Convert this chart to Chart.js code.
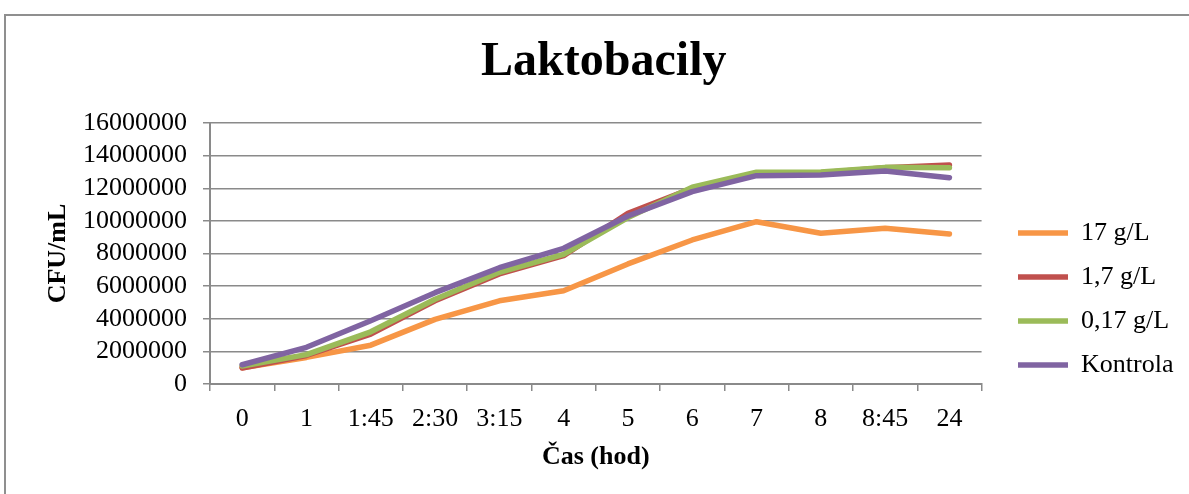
<html><head><meta charset="utf-8">
<script src="https://cdn.jsdelivr.net/npm/chart.js@4.4.0/dist/chart.umd.min.js"></script>
<style>
 html, body { margin:0; padding:0; background:#fff; overflow:hidden; }
 #frame { position:absolute; left:4px; top:14px; width:1300px; height:600px; border:2px solid #8f8f8f; box-sizing:border-box; }
 #myChart { position:absolute; left:0; top:0; }
</style>
</head>
<body>
<div id="frame"></div>
<canvas id="myChart" width="1189" height="494"></canvas>
<script>
// data
var casy = ['0', '1', '1:45', '2:30', '3:15', '4', '5', '6', '7', '8', '8:45', '24'];
var g17 = [1000000, 1630000, 2380000, 3960000, 5100000, 5720000, 7360000, 8830000, 9950000, 9240000, 9550000, 9200000];
var g1_7 = [980000, 1750000, 3060000, 5100000, 6750000, 7870000, 10470000, 12000000, 12900000, 12950000, 13250000, 13420000];
var g0_17 = [1100000, 1800000, 3200000, 5200000, 6850000, 7950000, 10200000, 12060000, 12980000, 13000000, 13280000, 13260000];
var kontrola = [1180000, 2250000, 3880000, 5600000, 7130000, 8320000, 10300000, 11790000, 12770000, 12810000, 13060000, 12650000];
var yTicks = [0, 2000000, 4000000, 6000000, 8000000, 10000000, 12000000, 14000000, 16000000];

var serif = "'Liberation Serif', 'Times New Roman', serif";
Chart.defaults.font.family = serif;
Chart.defaults.font.size = 26;
Chart.defaults.color = '#000';

var gray = '#8a8a8a';

// put legend and title where Excel had them
var placeBlocks = {
  id: 'placeBlocks',
  afterLayout: function(chart) {
    var l = chart.legend;
    var dx = 1000 - l.left, dy = 202 - l.top;
    l.left += dx; l.right += dx; l.top += dy; l.bottom += dy;
    var t = chart.titleBlock;
    t.left += 8; t.right += 8;
  }
};

function serie(label, data, color, order) {
  return {
    label: label, data: data, borderColor: color, backgroundColor: color,
    borderWidth: 5.5, pointRadius: 0, tension: 0, fill: false,
    borderCapStyle: 'round', borderJoinStyle: 'round', order: order
  };
}

var ctx = document.getElementById('myChart');
var myChart = new Chart(ctx, {
  type: 'line',
  data: {
    labels: casy,
    datasets: [
      serie('17 g/L', g17, '#F79646', 3),
      serie('1,7 g/L', g1_7, '#C0504D', 2),
      serie('0,17 g/L', g0_17, '#9BBB59', 1),
      serie('Kontrola', kontrola, '#8064A2', 0)
    ]
  },
  options: {
    responsive: false,
    animation: false,
    devicePixelRatio: 1,
    layout: { padding: { left: 0, top: 0, right: 24, bottom: 0 } },
    plugins: {
      title: {
        display: true, text: 'Laktobacily', fullSize: false, color: '#000',
        font: { family: serif, size: 48, weight: 'bold', lineHeight: 1 },
        padding: { top: 39, bottom: 36 }
      },
      legend: {
        position: 'right', align: 'start', fullSize: false,
        labels: {
          usePointStyle: true, pointStyle: 'line', pointStyleWidth: 50,
          padding: 18, font: { family: serif, size: 26 },
          sort: function(a, b) { return a.datasetIndex - b.datasetIndex; }
        }
      },
      tooltip: { enabled: false }
    },
    scales: {
      x: {
        offset: true,
        grid: { offset: true, drawOnChartArea: false, drawTicks: true, tickLength: 7, color: gray, lineWidth: 1.5 },
        border: { color: gray, width: 2 },
        ticks: { padding: 13, maxRotation: 0, autoSkip: false },
        title: { display: true, text: 'Čas (hod)', font: { family: serif, size: 26, weight: 'bold', lineHeight: 1 }, padding: { top: 4, bottom: 24 } },
        afterFit: function(s) { s.height = 110; }
      },
      y: {
        min: 0, max: 16000000,
        afterBuildTicks: function(s) { s.ticks = yTicks.map(function(v) { return { value: v }; }); },
        grid: { color: gray, lineWidth: 1.5, tickLength: 7 },
        border: { color: gray, width: 2 },
        ticks: { padding: 16, autoSkip: false, callback: function(v) { return String(v); } },
        title: { display: true, text: 'CFU/mL', font: { family: serif, size: 26, weight: 'bold', lineHeight: 1 }, padding: { top: 45, bottom: 0 } },
        afterFit: function(s) { s.width = 210; }
      }
    }
  },
  plugins: [placeBlocks]
});
</script>
</body></html>
